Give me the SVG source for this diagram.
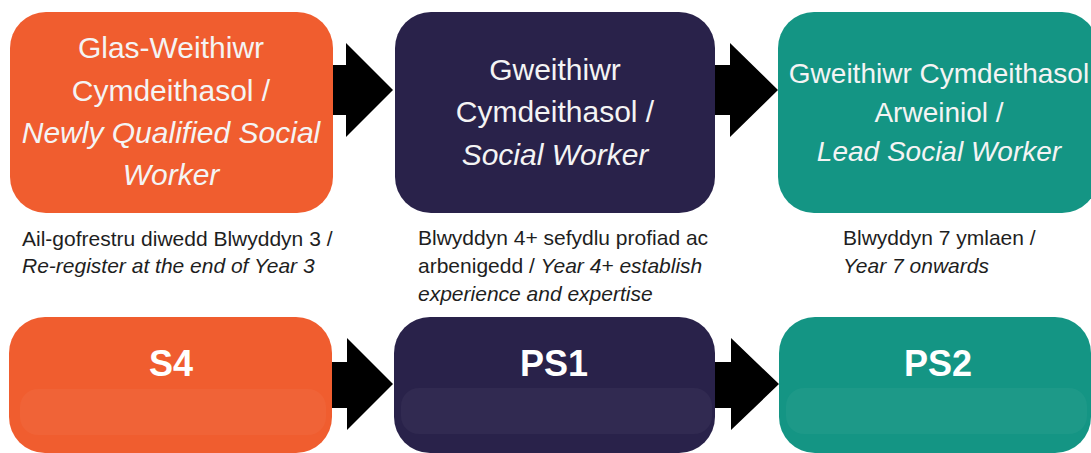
<svg xmlns="http://www.w3.org/2000/svg" width="1091" height="453" viewBox="0 0 1091 453">
<style>
.t{font-family:"Liberation Sans",Arial,sans-serif;font-size:30px;fill:#f4f4f4;text-anchor:middle}
.s{font-size:28px}
.i{font-style:italic}
.d{font-family:"Liberation Sans",Arial,sans-serif;font-size:21px;fill:#1e1e1e}
.b{font-family:"Liberation Sans",Arial,sans-serif;font-size:36px;font-weight:bold;fill:#ffffff;text-anchor:middle}
.or{fill:#F05D2F}.nv{fill:#29224A}.tl{fill:#149584}
.band{fill:#ffffff;fill-opacity:0.04}
.arr{fill:#000000}
</style>
<rect width="1091" height="453" fill="#ffffff"/>
<g id="connectors">
<polygon class="arr" points="332,65 346,65 346,43 393,90 346,137 346,115 332,115"/>
<polygon class="arr" points="714,65 730,65 730,43 778,90 730,137 730,115 714,115"/>
<polygon class="arr" points="331,362 347,362 347,338 393,384 347,430 347,408 331,408"/>
<polygon class="arr" points="714,362 731,362 731,338 779,384 731,430 731,408 714,408"/>
</g>
<g id="node-nqsw">
<rect class="or" x="10" y="12" width="323" height="201" rx="36"/>
<text class="t" x="171" y="58">Glas-Weithiwr</text>
<text class="t" x="171" y="101">Cymdeithasol /</text>
<text class="t i" x="171" y="143">Newly Qualified Social</text>
<text class="t i" x="171" y="185">Worker</text>
</g>
<g id="node-sw">
<rect class="nv" x="395" y="12" width="320" height="201" rx="36"/>
<text class="t" x="555" y="80">Gweithiwr</text>
<text class="t" x="555" y="122">Cymdeithasol /</text>
<text class="t i" x="555" y="165">Social Worker</text>
</g>
<g id="node-lsw">
<rect class="tl" x="778" y="12" width="320" height="201" rx="36"/>
<text class="t s" x="939" y="83">Gweithiwr Cymdeithasol</text>
<text class="t s" x="939" y="122">Arweiniol /</text>
<text class="t s i" x="939" y="161">Lead Social Worker</text>
</g>
<g id="desc-1">
<text class="d" x="22" y="246">Ail-gofrestru diwedd Blwyddyn 3 /</text>
<text class="d i" x="22" y="273">Re-register at the end of Year 3</text>
</g>
<g id="desc-2">
<text class="d" x="418" y="245">Blwyddyn 4+ sefydlu profiad ac</text>
<text class="d" x="418" y="273">arbenigedd / <tspan class="i">Year 4+ establish</tspan></text>
<text class="d i" x="418" y="301">experience and expertise</text>
</g>
<g id="desc-3">
<text class="d" x="843" y="245">Blwyddyn 7 ymlaen /</text>
<text class="d i" x="843" y="273">Year 7 onwards</text>
</g>
<g id="node-s4">
<rect class="or" x="9" y="317" width="323" height="136" rx="36"/>
<rect class="band" x="20" y="389" width="306" height="46" rx="18"/>
<text class="b" x="171" y="376">S4</text>
</g>
<g id="node-ps1">
<rect class="nv" x="394" y="317" width="321" height="136" rx="36"/>
<rect class="band" x="401" y="388" width="311" height="46" rx="18"/>
<text class="b" x="554" y="376">PS1</text>
</g>
<g id="node-ps2">
<rect class="tl" x="779" y="317" width="312" height="136" rx="36"/>
<rect class="band" x="786" y="388" width="301" height="46" rx="18"/>
<text class="b" x="938" y="376">PS2</text>
</g>
</svg>
